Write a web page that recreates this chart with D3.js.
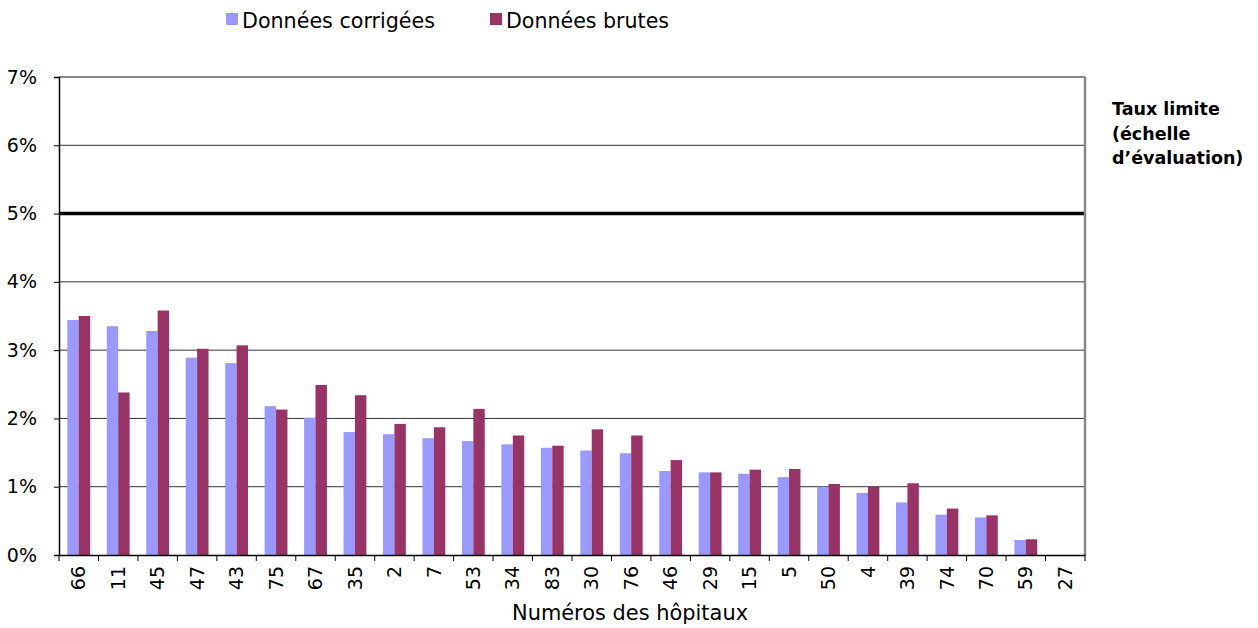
<!DOCTYPE html>
<html><head><meta charset="utf-8">
<script src="https://cdn.jsdelivr.net/npm/d3@7"></script>
<style>body{margin:0;background:#fff}svg{display:block}text{font-family:"DejaVu Sans",sans-serif}</style>
</head><body><svg id="c" width="1258" height="628"></svg>
<script>
const categories = ["66","11","45","47","43","75","67","35","2","7","53","34","83","30","76","46","29","15","5","50","4","39","74","70","59","27"];
const corrigees = [3.44,3.35,3.28,2.89,2.81,2.18,2.01,1.80,1.77,1.71,1.67,1.62,1.57,1.53,1.49,1.23,1.21,1.19,1.14,1.00,0.91,0.77,0.59,0.55,0.22,0];
const brutes = [3.50,2.38,3.58,3.02,3.07,2.13,2.49,2.34,1.92,1.87,2.14,1.75,1.60,1.84,1.75,1.39,1.21,1.25,1.26,1.04,1.00,1.05,0.68,0.58,0.23,0];
const yTicks = [0,1,2,3,4,5,6,7];
const seriesNames = ["Données corrigées","Données brutes"];
const seriesColors = ["#9999FF","#993366"];
const limit = 5;

const svg = d3.select("#c");
const L=59, R=1085, T=77, B=555;
const x = d3.scaleBand().domain(categories).range([L,R]).paddingInner(0).paddingOuter(0);
const x1 = d3.scaleBand().domain([0,1]).range([0,x.bandwidth()]).paddingOuter(0.73).paddingInner(0);
const y = d3.scaleLinear().domain([0,7]).range([B,T]);

// gridlines
svg.append("g").selectAll("line").data(yTicks.filter(d=>d>0&&d<7)).join("line")
  .attr("x1",L).attr("x2",R).attr("y1",d=>y(d)).attr("y2",d=>y(d))
  .attr("stroke",d=>d===limit?"#000":"#333").attr("stroke-width",d=>d===limit?3.5:1);
// top & right border
svg.append("line").attr("x1",L).attr("x2",R).attr("y1",y(7)).attr("y2",y(7)).attr("stroke","#888").attr("stroke-width",2);
svg.append("line").attr("x1",R).attr("x2",R).attr("y1",T).attr("y2",B).attr("stroke","#888").attr("stroke-width",2.5);

// bars
const data = [corrigees,brutes];
data.forEach((arr,si)=>{
  svg.append("g").selectAll("rect").data(arr).join("rect")
    .attr("x",(d,i)=>x(categories[i])+x1(si))
    .attr("width",x1.bandwidth())
    .attr("y",d=>y(d)).attr("height",d=>B-y(d))
    .attr("fill",seriesColors[si]);
});

// y axis
const ya = svg.append("g").attr("transform",`translate(${L},0)`)
  .call(d3.axisLeft(y).tickValues(yTicks).tickFormat(d=>d+"%").tickSize(5).tickPadding(17));
ya.select(".domain").attr("stroke","#000").attr("stroke-width",1.5);
ya.selectAll(".tick line").attr("stroke","#000");
ya.selectAll("text").attr("font-size",19).attr("fill","#000");

// x axis
const xa = svg.append("g").attr("transform",`translate(0,${B})`)
  .call(d3.axisBottom(x).tickSize(0).tickPadding(0));
xa.select(".domain").attr("stroke","#000").attr("stroke-width",1.5);
xa.selectAll(".tick text").attr("font-size",19).attr("fill","#000")
  .attr("text-anchor","end").attr("dy","0.35em")
  .attr("transform","translate(0,11) rotate(-90)").attr("x",0).attr("y",0);
svg.append("g").selectAll("line").data(categories.concat(["_end"])).join("line")
  .attr("x1",(d,i)=>L+i*x.bandwidth()).attr("x2",(d,i)=>L+i*x.bandwidth())
  .attr("y1",B).attr("y2",B+6).attr("stroke","#000").attr("stroke-width",1);

// axis title
svg.append("text").attr("x",630).attr("y",620).attr("text-anchor","middle")
  .attr("font-size",21).attr("textLength",236).attr("lengthAdjust","spacingAndGlyphs").text("Numéros des hôpitaux");

// legend
const leg = [{x:226,w:193,t:seriesNames[0],c:seriesColors[0]},{x:490,w:163,t:seriesNames[1],c:seriesColors[1]}];
leg.forEach(l=>{
  svg.append("rect").attr("x",l.x).attr("y",13).attr("width",12).attr("height",12).attr("fill",l.c);
  svg.append("text").attr("x",l.x+16).attr("y",28).attr("font-size",21)
    .attr("textLength",l.w).attr("lengthAdjust","spacingAndGlyphs").text(l.t);
});

// right annotation
const ann = ["Taux limite","(échelle","d’évaluation)"];
svg.append("g").selectAll("text").data(ann).join("text")
  .attr("x",1112).attr("y",(d,i)=>115+i*24.5).attr("font-size",17.5).attr("font-weight","bold")
  .text(d=>d);
</script></body></html>
